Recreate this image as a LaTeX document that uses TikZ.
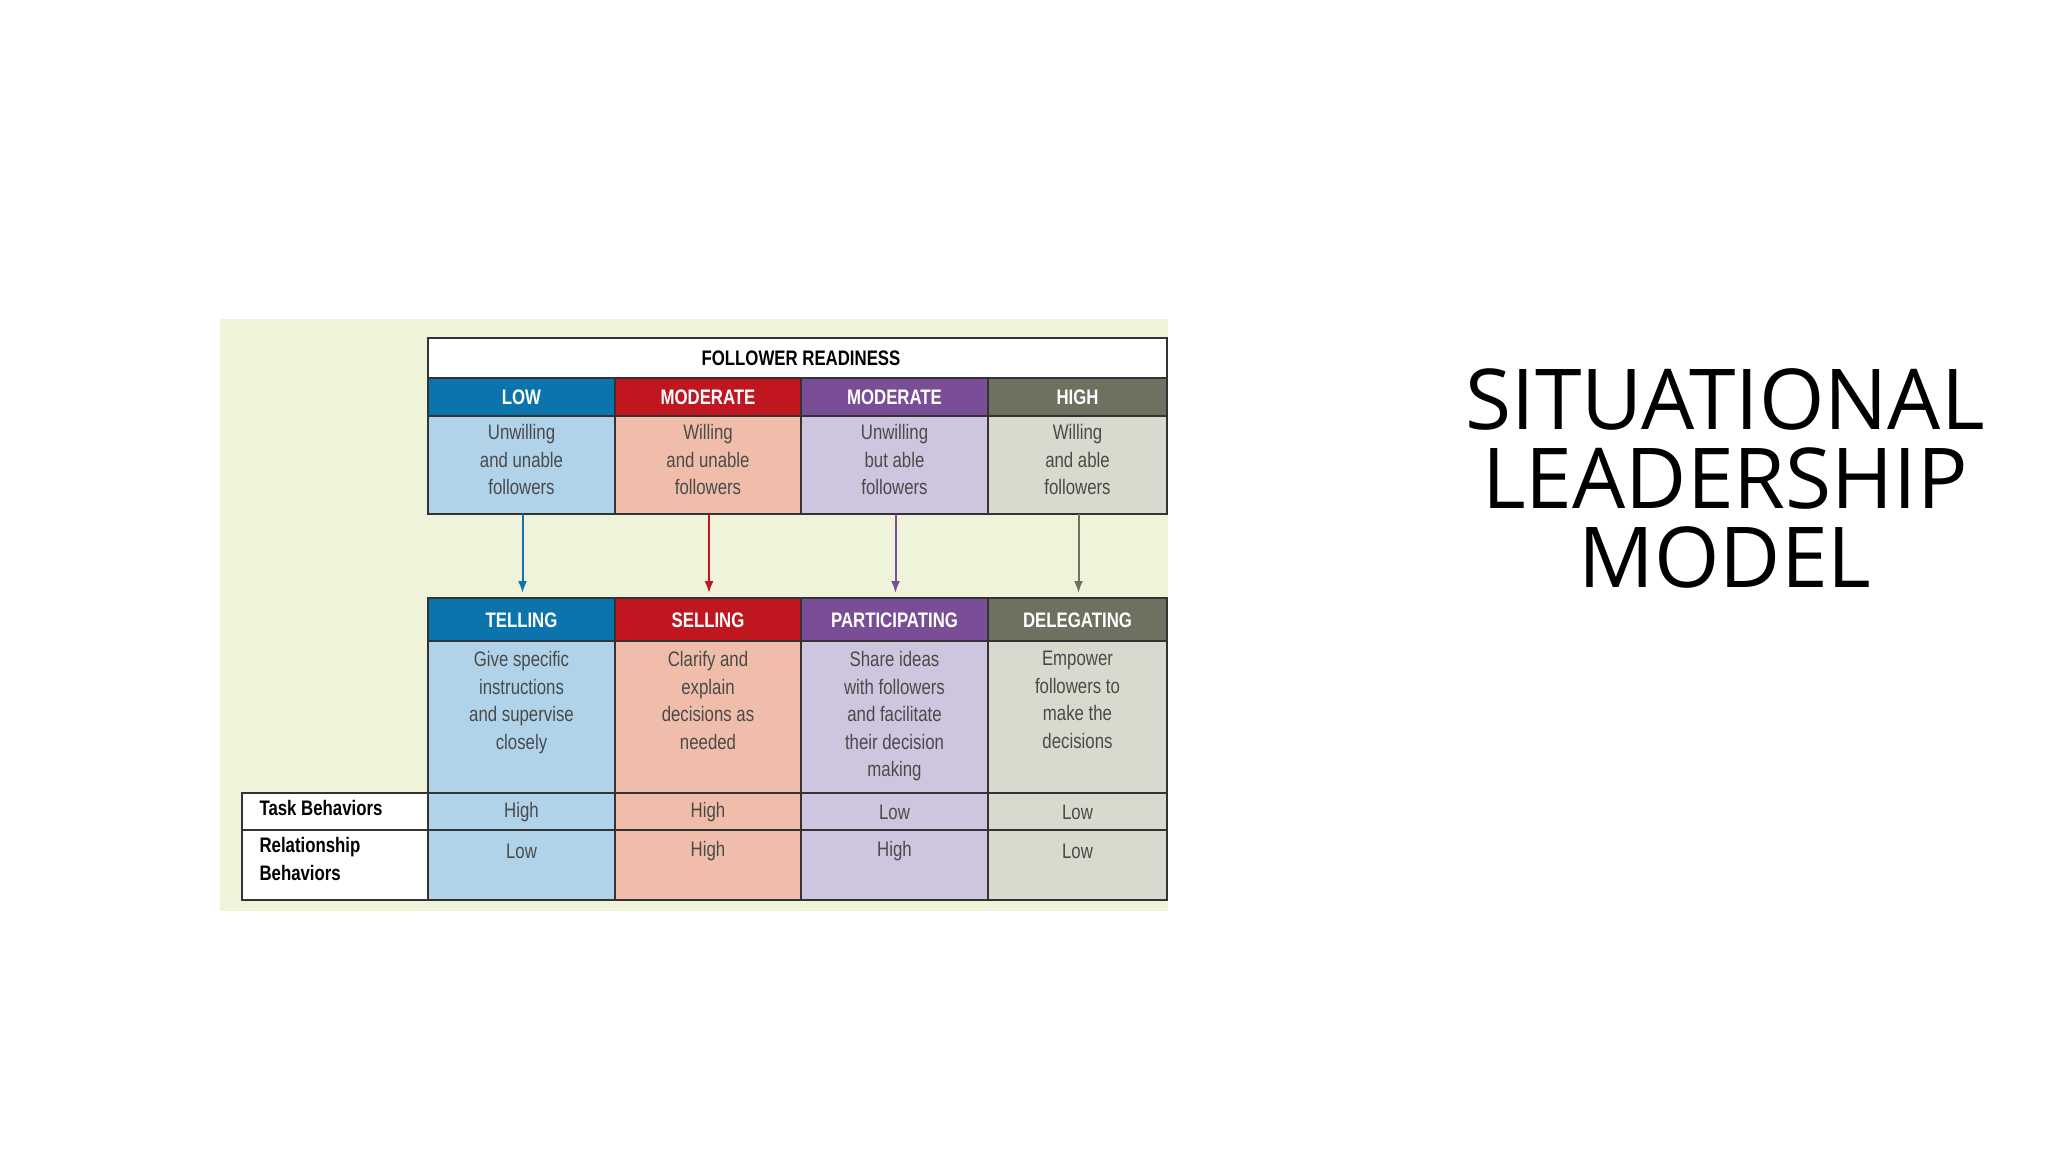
\documentclass[tikz,border=0pt]{standalone}
\usepackage{fontspec}
\setmainfont{Open Sans}
\newfontfamily\cond[FakeStretch=0.8]{Liberation Sans}
\definecolor{bgp}{HTML}{EEF3D9}
\definecolor{cb}{HTML}{0B74AD}\definecolor{lb}{HTML}{B0D3EA}
\definecolor{cr}{HTML}{BF1620}\definecolor{lr}{HTML}{F0BDAA}
\definecolor{cp}{HTML}{7A4E97}\definecolor{lp}{HTML}{D0C5DF}
\definecolor{co}{HTML}{6E7060}\definecolor{lo}{HTML}{D9D9CD}
\definecolor{txt}{HTML}{4A4A4A}
\tikzset{cell/.style={draw=black!80,line width=1.2pt},
 hd/.style={text=white,font=\cond\fontsize{21}{24}\selectfont\bfseries},
 ds/.style={text=txt,align=center,font=\cond\fontsize{21}{27.5}\selectfont,anchor=north},
 lab/.style={text=black,align=left,font=\cond\fontsize{21}{27.5}\selectfont\bfseries,anchor=north west},
 arr/.style={line width=2pt,-{Latex[length=12pt,width=9pt]}}}
\usetikzlibrary{arrows.meta}
\begin{document}
\begin{tikzpicture}[x=1pt,y=-1pt]
\useasboundingbox (0,0) rectangle (2048,1152);
\fill[white] (0,0) rectangle (2048,1152);
\fill[bgp] (220,319) rectangle (1168,911);
\draw[cell,fill=white] (428,338) rectangle (1167,378);
\node[font=\cond\fontsize{21}{24}\selectfont\bfseries] (fr) at (801,358) {FOLLOWER READINESS};
\foreach \xa/\xb/\c/\l/\h/\d/\s/\e/\tb/\rb [count=\i] in
 {428/615/cb/lb/LOW/{Unwilling\\and unable\\followers}/TELLING/{Give specific\\instructions\\and supervise\\closely}/High/Low,
  615/801/cr/lr/MODERATE/{Willing\\and unable\\followers}/SELLING/{Clarify and\\explain\\decisions as\\needed}/High/High,
  801/988/cp/lp/MODERATE/{Unwilling\\but able\\followers}/PARTICIPATING/{Share ideas\\with followers\\and facilitate\\their decision\\making}/Low/High,
  988/1167/co/lo/HIGH/{Willing\\and able\\followers}/DELEGATING/{Empower\\followers to\\make the\\decisions}/Low/Low}{
 \draw[cell,fill=\c] (\xa,378) rectangle (\xb,416);
 \draw[cell,fill=\l] (\xa,416) rectangle (\xb,514);
 \draw[cell,fill=\c] (\xa,598) rectangle (\xb,641);
 \draw[cell,fill=\l] (\xa,641) rectangle (\xb,793);
 \draw[cell,fill=\l] (\xa,793) rectangle (\xb,830);
 \draw[cell,fill=\l] (\xa,830) rectangle (\xb,900);
 \node[hd] (h\i) at ({(\xa+\xb)/2},397) {\h};
 \node[ds] (d\i) at ({(\xa+\xb)/2},421) {\d};
 \node[hd] (s\i) at ({(\xa+\xb)/2},620) {\s};
 \node[ds] (e\i) at ({(\xa+\xb)/2},648) {\e};
 \node[text=txt,font=\cond\fontsize{21}{24}\selectfont] (t\i) at ({(\xa+\xb)/2},812) {\tb};
 \node[text=txt,font=\cond\fontsize{21}{24}\selectfont] (r\i) at ({(\xa+\xb)/2},851) {\rb};
 \coordinate (a\i) at ({(\xa+\xb)/2+1},514);
 \coordinate (b\i) at ({(\xa+\xb)/2+1},593);
 \draw[arr,\c] (a\i) -- (b\i);
}
\draw[cell,fill=white] (242,793) rectangle (428,830);
\draw[cell,fill=white] (242,830) rectangle (428,900);
\node[lab] (tb) at (256,797) {Task Behaviors};
\node[lab] (rb) at (256,834) {Relationship\\Behaviors};
\node[font=\fontsize{84}{79}\selectfont,align=center,anchor=north] (title) at (1725,365) {SITUATIONAL\\LEADERSHIP\\MODEL};
\end{tikzpicture}
\end{document}
